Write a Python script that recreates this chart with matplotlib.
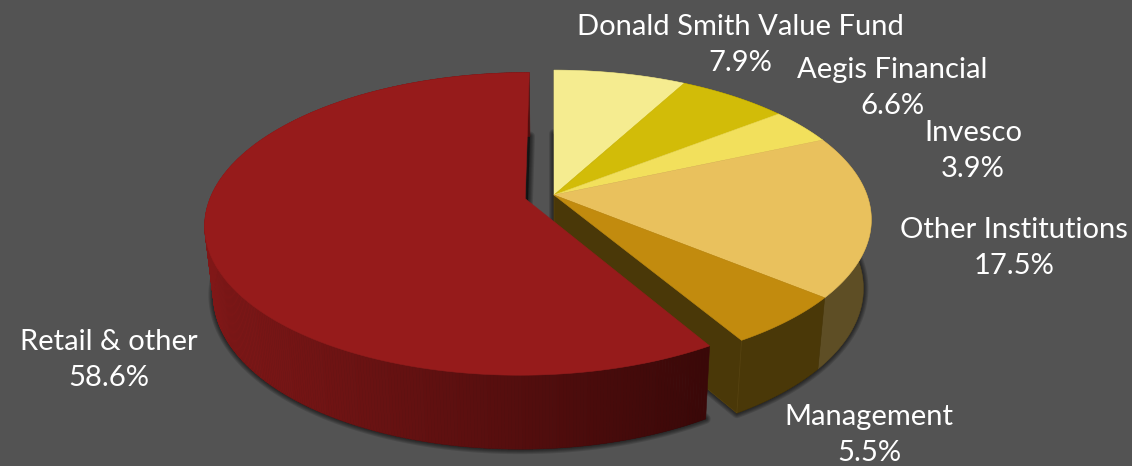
import numpy as np
import matplotlib
matplotlib.use("Agg")
import matplotlib.pyplot as plt
from matplotlib.patches import Polygon
from matplotlib.collections import PolyCollection
from matplotlib.colors import to_rgb

categories = ["Donald Smith Value Fund", "Aegis Financial", "Invesco",
              "Other Institutions", "Management", "Retail & other"]
shares = [7.9, 6.6, 3.9, 17.5, 5.5, 58.6]
top_colors = ["#F5EC90", "#D2BC08", "#F2E05C", "#E9C15D", "#C28B0E", "#961B1B"]
side_colors = ["#6A6530", "#5A5006", "#6A6228", "#5E4E25", "#4A3808", "#7F1717"]
label_centers = [(740, 45), (892, 88), (973, 151), (1014, 248), (869, 435), (109, 360)]

BG = "#535353"
CX, CY = 554.0, 195.0
R, RB, K = 313.0, 145.5, 0.165
EXPLODE = 0.095
RETAIL_SCALE = 1.003


def project(theta, rad=1.0, off=(0.0, 0.0), scale=1.0):
    x = rad * np.sin(theta) * scale + off[0]
    y = rad * np.cos(theta) * scale + off[1]
    den = 1 + K * y
    return R * x / den, -RB * y / den


def lower(X, Y):
    return CX + 0.975 * X, CY + 1.033 * Y + 68


def upper(X, Y):
    return CX + X, CY + Y


fig = plt.figure(figsize=(11.32, 4.66), dpi=100, facecolor=BG)
ax = fig.add_axes([0, 0, 1, 1])
ax.set_xlim(0, 1132)
ax.set_ylim(466, 0)
ax.axis("off")

fractions = np.cumsum([0] + shares) / sum(shares) * 2 * np.pi
n = len(shares)
retail = n - 1
mid = (fractions[retail] + fractions[retail + 1]) / 2
retail_off = (EXPLODE * np.sin(mid), EXPLODE * np.cos(mid))


def slice_arc(i, num=160):
    return np.linspace(fractions[i], fractions[i + 1], num)


def shadow(poly_xy, z):
    for w in [10, 8, 6, 4, 2]:
        ax.add_patch(Polygon(poly_xy, closed=True, facecolor="black",
                             edgecolor="black", lw=w * 0.72, alpha=0.13,
                             joinstyle="round", zorder=z))


# shadows cast by the underside of both parts
theta_group = np.linspace(fractions[0], fractions[retail], 300)
gx, gy = project(theta_group)
ax0, ay0 = project(np.array([0.0]), 0.0)
shadow(np.column_stack(lower(np.r_[ax0, gx], np.r_[ay0, gy])), 1)
theta_ret = slice_arc(retail, 400)
rx, ry = project(theta_ret, off=retail_off, scale=RETAIL_SCALE)
bx0, by0 = project(np.array([0.0]), 0.0, off=retail_off)
shadow(np.column_stack(lower(np.r_[bx0, rx], np.r_[by0, ry])), 1)

# outer side faces of the right-hand group
for i in range(retail):
    t = slice_arc(i)
    X, Y = project(t)
    ux, uy = upper(X, Y)
    lx, ly = lower(X, Y)
    ax.add_patch(Polygon(np.column_stack([np.r_[ux, lx[::-1]], np.r_[uy, ly[::-1]]]),
                         closed=True, facecolor=side_colors[i],
                         edgecolor=side_colors[i], lw=0.4, zorder=2))

# cut face where Management meets the gap to Retail
end = np.array([fractions[retail]])
X, Y = project(end)
ux, uy = upper(X, Y)
lx, ly = lower(X, Y)
a_ux, a_uy = upper(ax0, ay0)
a_lx, a_ly = lower(ax0, ay0)
ax.add_patch(Polygon(np.column_stack([np.r_[a_ux, ux, lx, a_lx], np.r_[a_uy, uy, ly, a_ly]]),
                     closed=True, facecolor=side_colors[4], edgecolor="#5A4510",
                     lw=0.5, zorder=3))

# top faces of the right-hand group
for i in range(retail):
    X, Y = project(slice_arc(i))
    ux, uy = upper(np.r_[ax0, X], np.r_[ay0, Y])
    ax.add_patch(Polygon(np.column_stack([ux, uy]), closed=True,
                         facecolor=top_colors[i], edgecolor=top_colors[i],
                         lw=0.4, zorder=4))

# Retail side: shaded strip by strip, darker towards the right
t = theta_ret
ux, uy = upper(rx, ry)
lx, ly = lower(rx, ry)
left_col, right_col = np.array(to_rgb("#801717")), np.array(to_rgb("#3A0808"))
polys, cols = [], []
for j in range(len(t) - 1):
    polys.append([(ux[j], uy[j]), (ux[j + 1], uy[j + 1]), (lx[j + 1], ly[j + 1]), (lx[j], ly[j])])
    f = np.clip((ux[j] - 205) / (707 - 205), 0, 1)
    cols.append(left_col + (right_col - left_col) * f)
ax.add_collection(PolyCollection(polys, facecolors=cols, edgecolors=cols, linewidths=0.4, zorder=5))

# Retail top
ax.add_patch(Polygon(np.column_stack(upper(np.r_[bx0, rx], np.r_[by0, ry])), closed=True,
                     facecolor=top_colors[retail], edgecolor=top_colors[retail],
                     lw=0.4, zorder=6))

for name, val, (tx, ty) in zip(categories, shares, label_centers):
    ax.text(tx, ty, f"{name}\n{val:.1f}%", ha="center", va="center", color="white",
            fontsize=21, family="Lato", linespacing=1.5, zorder=10)

fig.savefig("out.png", dpi=100, facecolor=BG)
